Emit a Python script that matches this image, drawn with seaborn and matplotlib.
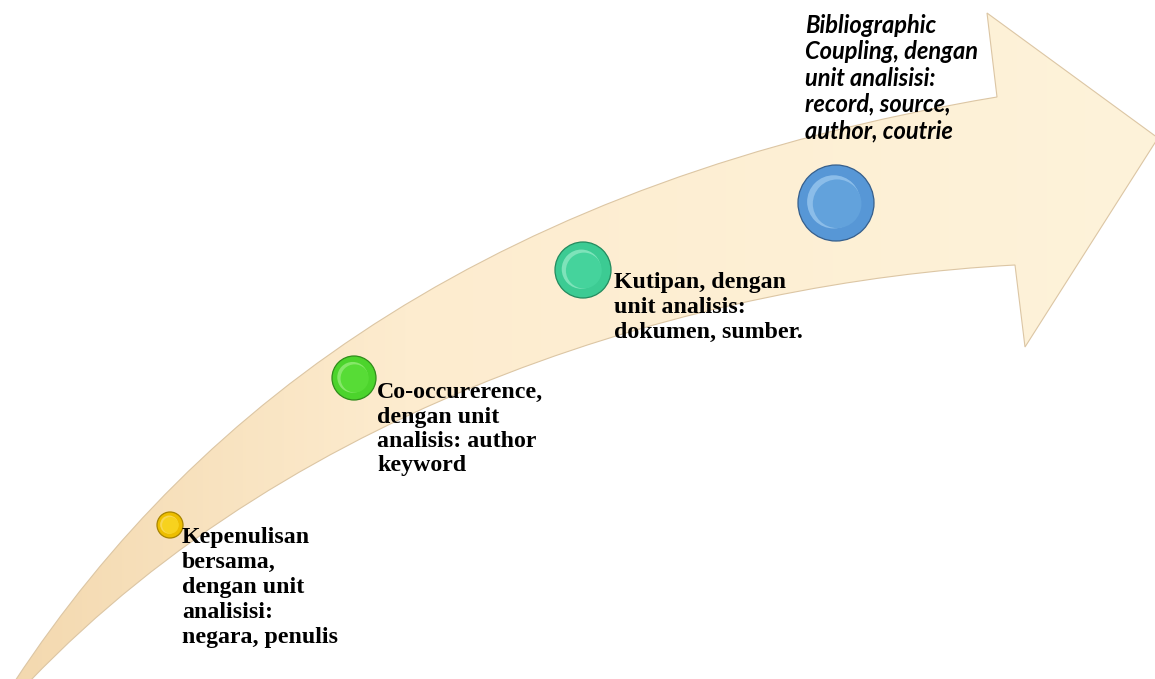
import numpy as np
import pandas as pd
import matplotlib
matplotlib.use("Agg")
import matplotlib.pyplot as plt
from matplotlib.path import Path
from matplotlib.patches import PathPatch
from matplotlib.colors import to_rgb
import seaborn as sns

# ---- data ----
stages = ["Kepenulisan", "Co-occurence", "Kutipan", "Bibliographic Coupling"]
texts = [
    ["Kepenulisan", "bersama,", "dengan unit", "analisisi:", "negara, penulis"],
    ["Co-occurerence,", "dengan unit", "analisis: author", "keyword"],
    ["Kutipan, dengan", "unit analisis:", "dokumen, sumber."],
    ["Bibliographic", "Coupling, dengan", "unit analisisi:", "record, source,", "author, coutrie"],
]
node_x = [170, 354, 583, 836]
node_y = [525, 378, 270, 203]
node_r = [13, 22, 28, 38]
base_colors = ["#EDBE00", "#4CD42C", "#3CCB93", "#5797D6"]
rim_colors = ["#FFE680", "#A6F28A", "#A2F0D0", "#A8D2F4"]
inner_colors = ["#F7D21E", "#57DC36", "#45D39C", "#62A2DC"]
edge_colors = ["#A88400", "#2F8C1A", "#238A5E", "#365F8C"]
text_x = [182, 377, 614, 805]
text_y0 = [543, 398, 288, 33]
text_dy = [25, 24.5, 25, 26.3]

W, H = 1155, 679
sns.set_theme(style="white")
fig = plt.figure(figsize=(W / 100, H / 100), dpi=100)
ax = fig.add_axes([0, 0, 1, 1])

# ---- curved arrow shape ----
verts = [
    (15, 681),
    (200, 400), (500, 180), (997, 97),      # upper edge
    (987, 13),                              # head top
    (1158, 138),                            # tip
    (1025, 347),                            # head bottom
    (1015, 265),                            # lower neck
    (700, 282), (300, 400), (30, 681),      # lower edge
    (15, 681),
]
codes = [Path.MOVETO,
         Path.CURVE4, Path.CURVE4, Path.CURVE4,
         Path.LINETO, Path.LINETO, Path.LINETO, Path.LINETO,
         Path.CURVE4, Path.CURVE4, Path.CURVE4,
         Path.CLOSEPOLY]
arrow_path = Path(verts, codes)

xs = np.linspace(0, 1, 400)[:, None]
c0, c1, c2 = (np.array(to_rgb(c)) for c in ("#F3D8AE", "#FDECCF", "#FEF3DA"))
k = 0.35
grad = np.where(xs < k, c0 + (c1 - c0) * (xs / k), c1 + (c2 - c1) * ((xs - k) / (1 - k)))
img = np.repeat(grad[None, :, :], 10, axis=0)
im = ax.imshow(img, extent=[0, W, H, 0], aspect="auto", zorder=1, interpolation="bilinear")
clip = PathPatch(arrow_path, transform=ax.transData, facecolor="none", edgecolor="none")
ax.add_patch(clip)
im.set_clip_path(clip)
ax.add_patch(PathPatch(arrow_path, facecolor="none", edgecolor="#DCC6A4", lw=0.8, zorder=2))

# ---- nodes ----
def s_of(r):
    return (2 * r * 0.72) ** 2

df = pd.DataFrame({"stage": stages, "x": node_x, "y": node_y})
sns.scatterplot(data=df, x="x", y="y", hue="stage", size="stage",
                palette=dict(zip(stages, base_colors)),
                sizes={s: s_of(r) for s, r in zip(stages, node_r)},
                edgecolor=edge_colors, linewidth=0.9, legend=False, ax=ax, zorder=5)
# light rim (left / upper side), then raised inner disc
ax.scatter([x - 0.06 * r for x, r in zip(node_x, node_r)],
           [y - 0.03 * r for y, r in zip(node_y, node_r)],
           s=[s_of(r * 0.70) for r in node_r], c=rim_colors, edgecolors="none",
           zorder=6, alpha=0.65)
ax.scatter([x + 0.03 * r for x, r in zip(node_x, node_r)],
           [y + 0.02 * r for y, r in zip(node_y, node_r)],
           s=[s_of(r * 0.64) for r in node_r], c=inner_colors, edgecolors="none",
           zorder=7)

ax.set_xlim(0, W)
ax.set_ylim(H, 0)
ax.axis("off")

# ---- labels ----
for i, lines in enumerate(texts):
    for j, line in enumerate(lines):
        if i < 3:
            ax.text(text_x[i], text_y0[i] + j * text_dy[i], line, ha="left", va="baseline",
                    fontsize=17.2, fontweight="bold", family="Liberation Serif",
                    color="black", zorder=8)
        else:
            ax.text(text_x[i], text_y0[i] + j * text_dy[i], line, ha="left", va="baseline",
                    fontsize=17.0, fontweight="bold", fontstyle="italic", family="Lato",
                    color="black", zorder=8)

fig.savefig("out.png", dpi=100)
